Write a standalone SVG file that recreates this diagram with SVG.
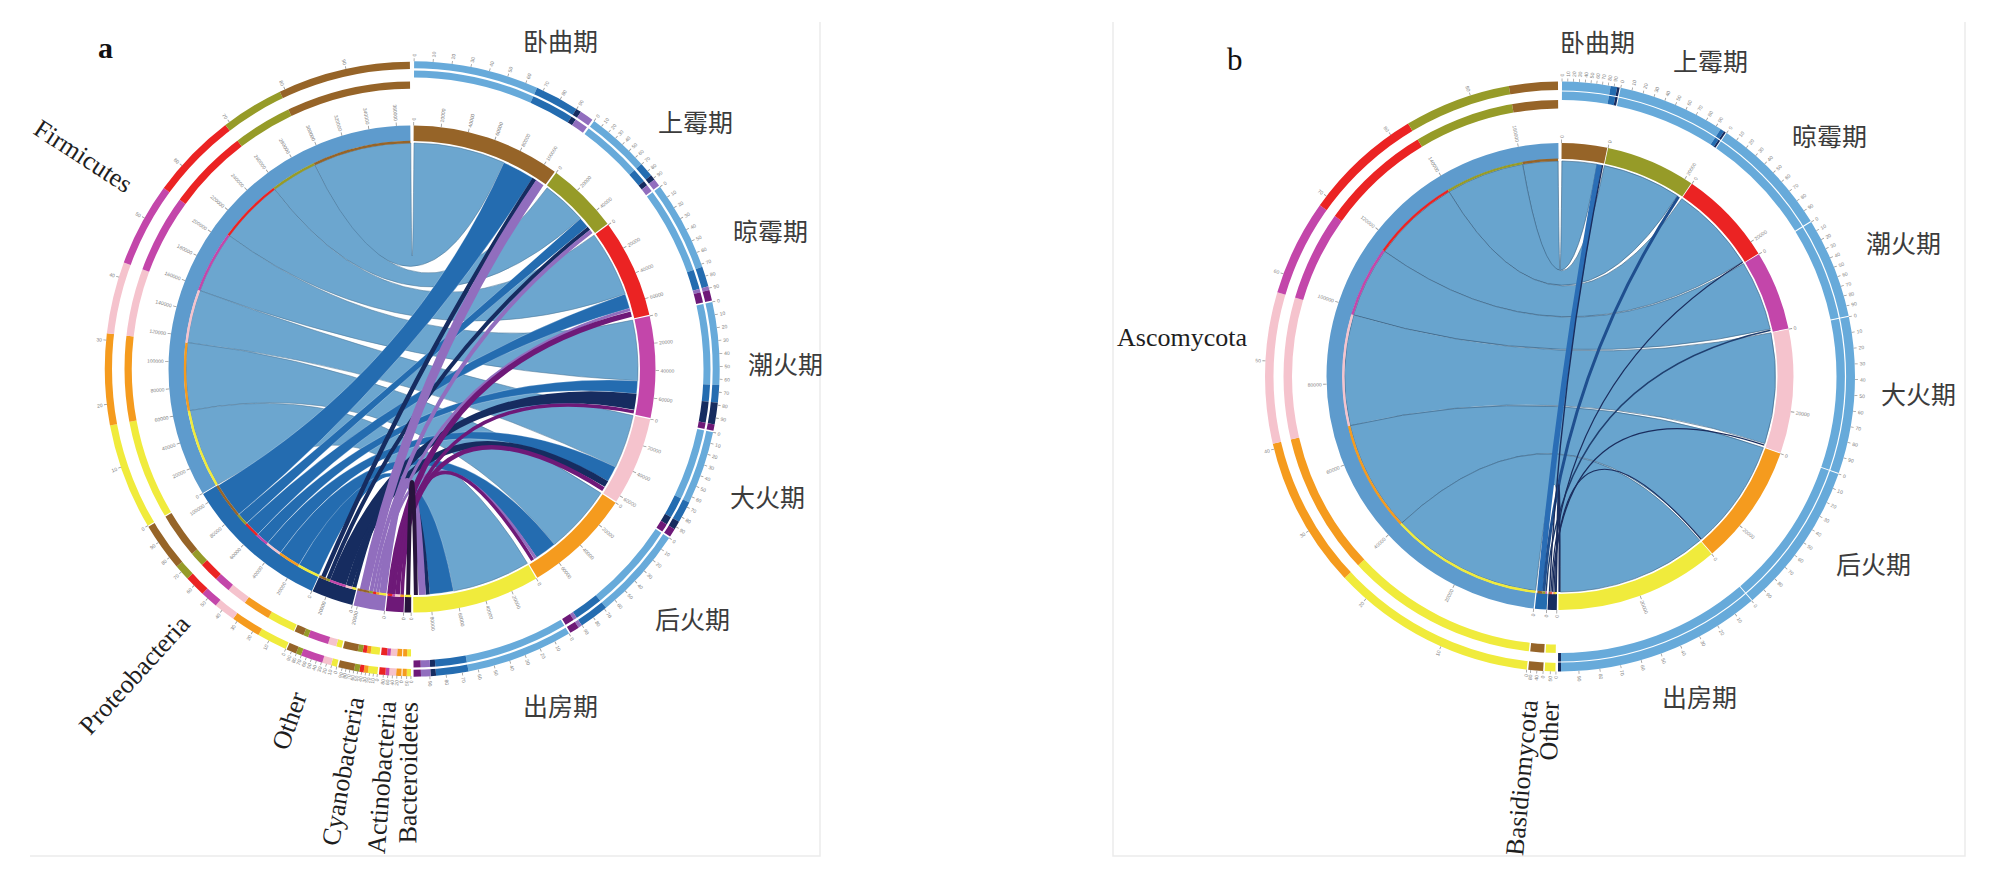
<svg xmlns="http://www.w3.org/2000/svg" width="2005" height="879" viewBox="0 0 2005 879">
<style>
.cn{font-family:"Noto Sans CJK SC","Noto Sans CJK JP",sans-serif;font-size:25px;fill:#3c3c3c}
.en{font-family:"Liberation Serif","Times New Roman",serif;font-size:26px;fill:#1e1e1e}
.tk,.tkl{font-family:"Liberation Sans",Arial,sans-serif;font-size:5px;fill:#808080;dominant-baseline:central}
.tkl{text-anchor:end}
.br{stroke:#966428}.ol{stroke:#969b28}.rd{stroke:#eb2323}.mg{stroke:#c346aa}.pk{stroke:#f5c3cd}.or{stroke:#f59b1e}.ye{stroke:#f0eb3c}
.lb{stroke:#67aada}.fb{stroke:#5e9bcd}.mb{stroke:#246cb0}.nv{stroke:#162c60}.lv{stroke:#916ebe}.pu{stroke:#6e1978}.dk{stroke:#28143c}
.tc{stroke:#9a9a9a}.wt{stroke:#ffffff}
</style>
<rect width="2005" height="879" fill="#ffffff"/>
<g id="frame" fill="none" stroke="#ebebeb" stroke-width="1.5">
<path d="M30,856H820V22"/>
<path d="M1113,22V856H1965V22"/>
</g>
<text x="98" y="58" font-family="Liberation Serif,serif" font-size="30" font-weight="bold" fill="#111">a</text>
<text x="1227" y="70" font-family="Liberation Serif,serif" font-size="31" fill="#111">b</text>

<g id="panel-a" transform="translate(412,369)">
<g id="a-connectors">
<g fill="#6ca6cf" stroke="#4a7496" stroke-width="0.7" stroke-opacity="0.75">
<path d="M-97.3,-204A226,226 0 0 1 -1.2,-226Q0,0 2,-226A226,226 0 0 1 91.9,-206.5Q0,0 -97.3,-204Z"/>
<path d="M-137.3,-179.5A226,226 0 0 1 -97.3,-204Q0,0 135.1,-181.2A226,226 0 0 1 168.5,-150.6Q0,0 -137.3,-179.5Z"/>
<path d="M-182.6,-133.2A226,226 0 0 1 -137.3,-179.5Q0,0 182.1,-133.8A226,226 0 0 1 213.2,-75.1Q0,0 -182.6,-133.2Z"/>
<path d="M-212,-78.4A226,226 0 0 1 -182.6,-133.2Q0,0 220.6,-48.9A226,226 0 0 1 225.7,11.8Q0,0 -212,-78.4Z"/>
<path d="M-224.5,-26.4A226,226 0 0 1 -212,-78.4Q0,0 221.1,46.6A226,226 0 0 1 203.6,98Q0,0 -224.5,-26.4Z"/>
<path d="M-222.1,41.6A226,226 0 0 1 -224.5,-26.4Q0,0 188.9,124.1A226,226 0 0 1 142.5,175.4Q0,0 -222.1,41.6Z"/>
<path d="M-194.3,115.4A226,226 0 0 1 -222.1,41.6Q0,0 115.4,194.3A226,226 0 0 1 41.6,222.1Q0,0 -194.3,115.4Z"/>
</g>
<g fill="#246cb0" stroke="#ffffff" stroke-width="0.5" stroke-opacity="0.5">
<path d="M-93,206A226,226 0 0 1 -113,195.7Q0,0 41.6,222.1A226,226 0 0 1 17.7,225.3Q0,0 -93,206Z"/>
<path d="M-113,195.7A226,226 0 0 1 -131.6,183.8Q0,0 142.5,175.4A226,226 0 0 1 124.7,188.5Q0,0 -113,195.7Z"/>
<path d="M-131.6,183.8A226,226 0 0 1 -144.4,173.9Q0,0 203.6,98A226,226 0 0 1 196.1,112.3Q0,0 -131.6,183.8Z"/>
<path d="M-144.4,173.9A226,226 0 0 1 -154.1,165.3Q0,0 225.7,11.8A226,226 0 0 1 224.6,24.8Q0,0 -144.4,173.9Z"/>
<path d="M-154.1,165.3A226,226 0 0 1 -165.3,154.1Q0,0 213.2,-75.1A226,226 0 0 1 217.7,-60.8Q0,0 -154.1,165.3Z"/>
<path d="M-165.3,154.1A226,226 0 0 1 -173.1,145.3Q0,0 168.5,-150.6A226,226 0 0 1 175.6,-142.2Q0,0 -165.3,154.1Z"/>
<path d="M-173.1,145.3A226,226 0 0 1 -193.7,116.4Q0,0 91.9,-206.5A226,226 0 0 1 120.8,-191Q0,0 -173.1,145.3Z"/>
</g>
<path fill="#162c60" d="M-66.1,216.1A226,226 0 0 1 -81.7,210.7Q0,0 224.6,24.8A226,226 0 0 1 222.3,40.8Q0,0 -66.1,216.1Z"/>
<g fill="none">
<path stroke="#162c60" stroke-width="6.5" d="M-62.9,217.1Q0,0 194.5,115"/>
<path stroke="#162c60" stroke-width="4" d="M-57.7,218.5Q0,0 15.8,225.5"/>
<path stroke="#162c60" stroke-width="4" d="M-83.6,210Q0,0 176.9,-140.7"/>
<path stroke="#162c60" stroke-width="4.5" d="M-88.7,207.9Q0,0 122.4,-190"/>
<path stroke="#916ebe" stroke-width="9" d="M-47.8,220.9Q0,0 127.8,-186.4"/>
<path stroke="#916ebe" stroke-width="4" d="M-40.8,222.3Q0,0 179.3,-137.6"/>
<path stroke="#916ebe" stroke-width="3" d="M-37.3,222.9Q0,0 218,-59.4"/>
<path stroke="#916ebe" stroke-width="3" d="M-34.2,223.4Q0,0 123.6,189.2"/>
<path stroke="#916ebe" stroke-width="7" d="M-29.1,224.1Q0,0 10.3,225.8"/>
<path stroke="#6e1978" stroke-width="5.5" d="M-22.1,224.9Q0,0 219.2,-54.9"/>
<path stroke="#6e1978" stroke-width="3.5" d="M-18.3,225.3Q0,0 221.9,42.9"/>
<path stroke="#6e1978" stroke-width="4.5" d="M-14.4,225.5Q0,0 191.4,120.1"/>
<path stroke="#6e1978" stroke-width="3.5" d="M-9.9,225.8Q0,0 120.6,191.1"/>
<path stroke="#28143c" stroke-width="4" d="M-3.9,226Q0,0 3.9,226"/>
</g>
</g>

<g id="a-wuqu">
<g transform="rotate(-90)" fill="none">
<circle r="235.75" stroke-width="15.5" pathLength="360" stroke-dasharray="35.5 360" stroke-dashoffset="-0.4" class="br"/>
<circle r="299.6" stroke-width="16.2" pathLength="360" stroke-dasharray="23.6 360" stroke-dashoffset="-0.4" class="lb"/>
<circle r="299.6" stroke-width="16.2" pathLength="360" stroke-dasharray="8.3 360" stroke-dashoffset="-24" class="mb"/>
<circle r="299.6" stroke-width="16.2" pathLength="360" stroke-dasharray="1 360" stroke-dashoffset="-32.3" class="nv"/>
<circle r="299.6" stroke-width="16.2" pathLength="360" stroke-dasharray="2.6 360" stroke-dashoffset="-33.3" class="lv"/>
<circle r="309.2" stroke-width="3" pathLength="360" class="tc" stroke-dasharray="0.15 3.4 0.15 3.4 0.15 3.4 0.15 3.4 0.15 3.4 0.15 3.4 0.15 3.4 0.15 3.4 0.15 3.4 0.15 400" stroke-dashoffset="-0.325"/>
</g>
<text class="tk" transform="rotate(-89.6)" x="248.5">0</text><text class="tk" transform="rotate(-83.1)" x="248.5">20000</text><text class="tk" transform="rotate(-76.6)" x="248.5">40000</text><text class="tk" transform="rotate(-70.1)" x="248.5">60000</text><text class="tk" transform="rotate(-63.6)" x="248.5">80000</text><text class="tk" transform="rotate(-57.1)" x="248.5">100000</text>
<text class="tk" transform="rotate(-89.6)" x="312.5">0</text><text class="tk" transform="rotate(-86.05)" x="312.5">10</text><text class="tk" transform="rotate(-82.5)" x="312.5">20</text><text class="tk" transform="rotate(-78.95)" x="312.5">30</text><text class="tk" transform="rotate(-75.4)" x="312.5">40</text><text class="tk" transform="rotate(-71.85)" x="312.5">50</text><text class="tk" transform="rotate(-68.3)" x="312.5">60</text><text class="tk" transform="rotate(-64.75)" x="312.5">70</text><text class="tk" transform="rotate(-61.2)" x="312.5">80</text><text class="tk" transform="rotate(-57.65)" x="312.5">90</text>
<text class="cn" x="111" y="-318">卧曲期</text>
</g>

<g id="a-shangmei">
<g transform="rotate(-90)" fill="none">
<circle r="235.75" stroke-width="15.5" pathLength="360" stroke-dasharray="17.1 360" stroke-dashoffset="-36.3" class="ol"/>
<circle r="299.6" stroke-width="16.2" pathLength="360" stroke-dasharray="11.9 360" stroke-dashoffset="-36.3" class="lb"/>
<circle r="299.6" stroke-width="16.2" pathLength="360" stroke-dasharray="2.8 360" stroke-dashoffset="-48.2" class="mb"/>
<circle r="299.6" stroke-width="16.2" pathLength="360" stroke-dasharray="1 360" stroke-dashoffset="-51" class="nv"/>
<circle r="299.6" stroke-width="16.2" pathLength="360" stroke-dasharray="1.4 360" stroke-dashoffset="-52" class="lv"/>
<circle r="309.2" stroke-width="3" pathLength="360" class="tc" stroke-dasharray="0.15 1.56 0.15 1.56 0.15 1.56 0.15 1.56 0.15 1.56 0.15 1.56 0.15 1.56 0.15 1.56 0.15 1.56 0.15 400" stroke-dashoffset="-36.225"/>
</g>
<text class="tk" transform="rotate(-53.7)" x="248.5">0</text><text class="tk" transform="rotate(-47.2)" x="248.5">20000</text><text class="tk" transform="rotate(-40.7)" x="248.5">40000</text>
<text class="tk" transform="rotate(-53.7)" x="312.5">0</text><text class="tk" transform="rotate(-51.99)" x="312.5">10</text><text class="tk" transform="rotate(-50.28)" x="312.5">20</text><text class="tk" transform="rotate(-48.57)" x="312.5">30</text><text class="tk" transform="rotate(-46.86)" x="312.5">40</text><text class="tk" transform="rotate(-45.15)" x="312.5">50</text><text class="tk" transform="rotate(-43.44)" x="312.5">60</text><text class="tk" transform="rotate(-41.73)" x="312.5">70</text><text class="tk" transform="rotate(-40.02)" x="312.5">80</text><text class="tk" transform="rotate(-38.31)" x="312.5">90</text>
<text class="cn" x="246" y="-237">上霉期</text>
</g>

<g id="a-liangmei">
<g transform="rotate(-90)" fill="none">
<circle r="235.75" stroke-width="15.5" pathLength="360" stroke-dasharray="23.4 360" stroke-dashoffset="-53.7" class="rd"/>
<circle r="299.6" stroke-width="16.2" pathLength="360" stroke-dasharray="16.9 360" stroke-dashoffset="-53.7" class="lb"/>
<circle r="299.6" stroke-width="16.2" pathLength="360" stroke-dasharray="3.8 360" stroke-dashoffset="-70.6" class="mb"/>
<circle r="299.6" stroke-width="16.2" pathLength="360" stroke-dasharray="0.7 360" stroke-dashoffset="-74.4" class="lv"/>
<circle r="299.6" stroke-width="16.2" pathLength="360" stroke-dasharray="2 360" stroke-dashoffset="-75.1" class="pu"/>
<circle r="309.2" stroke-width="3" pathLength="360" class="tc" stroke-dasharray="0.15 2.19 0.15 2.19 0.15 2.19 0.15 2.19 0.15 2.19 0.15 2.19 0.15 2.19 0.15 2.19 0.15 2.19 0.15 400" stroke-dashoffset="-53.625"/>
</g>
<text class="tk" transform="rotate(-36.3)" x="248.5">0</text><text class="tk" transform="rotate(-29.8)" x="248.5">20000</text><text class="tk" transform="rotate(-23.3)" x="248.5">40000</text><text class="tk" transform="rotate(-16.8)" x="248.5">60000</text>
<text class="tk" transform="rotate(-36.3)" x="312.5">0</text><text class="tk" transform="rotate(-33.96)" x="312.5">10</text><text class="tk" transform="rotate(-31.62)" x="312.5">20</text><text class="tk" transform="rotate(-29.28)" x="312.5">30</text><text class="tk" transform="rotate(-26.94)" x="312.5">40</text><text class="tk" transform="rotate(-24.6)" x="312.5">50</text><text class="tk" transform="rotate(-22.26)" x="312.5">60</text><text class="tk" transform="rotate(-19.92)" x="312.5">70</text><text class="tk" transform="rotate(-17.58)" x="312.5">80</text><text class="tk" transform="rotate(-15.24)" x="312.5">90</text>
<text class="cn" x="321" y="-128">晾霉期</text>
</g>

<g id="a-chaohuo">
<g transform="rotate(-90)" fill="none">
<circle r="235.75" stroke-width="15.5" pathLength="360" stroke-dasharray="24.2 360" stroke-dashoffset="-77.4" class="mg"/>
<circle r="299.6" stroke-width="16.2" pathLength="360" stroke-dasharray="15.6 360" stroke-dashoffset="-77.4" class="lb"/>
<circle r="299.6" stroke-width="16.2" pathLength="360" stroke-dasharray="3.3 360" stroke-dashoffset="-93" class="mb"/>
<circle r="299.6" stroke-width="16.2" pathLength="360" stroke-dasharray="4.1 360" stroke-dashoffset="-96.3" class="nv"/>
<circle r="299.6" stroke-width="16.2" pathLength="360" stroke-dasharray="1.2 360" stroke-dashoffset="-100.4" class="pu"/>
<circle r="309.2" stroke-width="3" pathLength="360" class="tc" stroke-dasharray="0.15 2.27 0.15 2.27 0.15 2.27 0.15 2.27 0.15 2.27 0.15 2.27 0.15 2.27 0.15 2.27 0.15 2.27 0.15 400" stroke-dashoffset="-77.325"/>
</g>
<text class="tk" transform="rotate(-12.6)" x="248.5">0</text><text class="tk" transform="rotate(-6.1)" x="248.5">20000</text><text class="tk" transform="rotate(0.4)" x="248.5">40000</text><text class="tk" transform="rotate(6.9)" x="248.5">60000</text>
<text class="tk" transform="rotate(-12.6)" x="312.5">0</text><text class="tk" transform="rotate(-10.18)" x="312.5">10</text><text class="tk" transform="rotate(-7.76)" x="312.5">20</text><text class="tk" transform="rotate(-5.34)" x="312.5">30</text><text class="tk" transform="rotate(-2.92)" x="312.5">40</text><text class="tk" transform="rotate(-0.5)" x="312.5">50</text><text class="tk" transform="rotate(1.92)" x="312.5">60</text><text class="tk" transform="rotate(4.34)" x="312.5">70</text><text class="tk" transform="rotate(6.76)" x="312.5">80</text><text class="tk" transform="rotate(9.18)" x="312.5">90</text>
<text class="cn" x="336" y="5">潮火期</text>
</g>

<g id="a-dahuo">
<g transform="rotate(-90)" fill="none">
<circle r="235.75" stroke-width="15.5" pathLength="360" stroke-dasharray="21.1 360" stroke-dashoffset="-101.9" class="pk"/>
<circle r="299.6" stroke-width="16.2" pathLength="360" stroke-dasharray="13.8 360" stroke-dashoffset="-101.9" class="lb"/>
<circle r="299.6" stroke-width="16.2" pathLength="360" stroke-dasharray="4.1 360" stroke-dashoffset="-115.7" class="mb"/>
<circle r="299.6" stroke-width="16.2" pathLength="360" stroke-dasharray="1.6 360" stroke-dashoffset="-119.8" class="nv"/>
<circle r="299.6" stroke-width="16.2" pathLength="360" stroke-dasharray="1.6 360" stroke-dashoffset="-121.4" class="pu"/>
<circle r="309.2" stroke-width="3" pathLength="360" class="tc" stroke-dasharray="0.15 1.96 0.15 1.96 0.15 1.96 0.15 1.96 0.15 1.96 0.15 1.96 0.15 1.96 0.15 1.96 0.15 1.96 0.15 400" stroke-dashoffset="-101.825"/>
</g>
<text class="tk" transform="rotate(11.9)" x="248.5">0</text><text class="tk" transform="rotate(18.4)" x="248.5">20000</text><text class="tk" transform="rotate(24.9)" x="248.5">40000</text><text class="tk" transform="rotate(31.4)" x="248.5">60000</text>
<text class="tk" transform="rotate(11.9)" x="312.5">0</text><text class="tk" transform="rotate(14.01)" x="312.5">10</text><text class="tk" transform="rotate(16.12)" x="312.5">20</text><text class="tk" transform="rotate(18.23)" x="312.5">30</text><text class="tk" transform="rotate(20.34)" x="312.5">40</text><text class="tk" transform="rotate(22.45)" x="312.5">50</text><text class="tk" transform="rotate(24.56)" x="312.5">60</text><text class="tk" transform="rotate(26.67)" x="312.5">70</text><text class="tk" transform="rotate(28.78)" x="312.5">80</text><text class="tk" transform="rotate(30.89)" x="312.5">90</text>
<text class="cn" x="318" y="138">大火期</text>
</g>

<g id="a-houhuo">
<g transform="rotate(-90)" fill="none">
<circle r="235.75" stroke-width="15.5" pathLength="360" stroke-dasharray="25.7 360" stroke-dashoffset="-123.3" class="or"/>
<circle r="299.6" stroke-width="16.2" pathLength="360" stroke-dasharray="17.6 360" stroke-dashoffset="-123.3" class="lb"/>
<circle r="299.6" stroke-width="16.2" pathLength="360" stroke-dasharray="5.6 360" stroke-dashoffset="-140.9" class="mb"/>
<circle r="299.6" stroke-width="16.2" pathLength="360" stroke-dasharray="0.7 360" stroke-dashoffset="-146.5" class="lv"/>
<circle r="299.6" stroke-width="16.2" pathLength="360" stroke-dasharray="1.8 360" stroke-dashoffset="-147.2" class="pu"/>
<circle r="309.2" stroke-width="3" pathLength="360" class="tc" stroke-dasharray="0.15 2.42 0.15 2.42 0.15 2.42 0.15 2.42 0.15 2.42 0.15 2.42 0.15 2.42 0.15 2.42 0.15 2.42 0.15 400" stroke-dashoffset="-123.225"/>
</g>
<text class="tk" transform="rotate(33.3)" x="248.5">0</text><text class="tk" transform="rotate(39.8)" x="248.5">20000</text><text class="tk" transform="rotate(46.3)" x="248.5">40000</text><text class="tk" transform="rotate(52.8)" x="248.5">60000</text>
<text class="tk" transform="rotate(33.3)" x="312.5">0</text><text class="tk" transform="rotate(35.87)" x="312.5">10</text><text class="tk" transform="rotate(38.44)" x="312.5">20</text><text class="tk" transform="rotate(41.01)" x="312.5">30</text><text class="tk" transform="rotate(43.58)" x="312.5">40</text><text class="tk" transform="rotate(46.15)" x="312.5">50</text><text class="tk" transform="rotate(48.72)" x="312.5">60</text><text class="tk" transform="rotate(51.29)" x="312.5">70</text><text class="tk" transform="rotate(53.86)" x="312.5">80</text><text class="tk" transform="rotate(56.43)" x="312.5">90</text>
<text class="cn" x="243" y="260">后火期</text>
</g>

<g id="a-chufang">
<g transform="rotate(-90)" fill="none">
<circle r="235.75" stroke-width="15.5" pathLength="360" stroke-dasharray="30.4 360" stroke-dashoffset="-149.3" class="ye"/>
<circle r="299.6" stroke-width="16.2" pathLength="360" stroke-dasharray="20.1 360" stroke-dashoffset="-149.3" class="lb"/>
<circle r="299.6" stroke-width="16.2" pathLength="360" stroke-dasharray="6.1 360" stroke-dashoffset="-169.4" class="mb"/>
<circle r="299.6" stroke-width="16.2" pathLength="360" stroke-dasharray="1 360" stroke-dashoffset="-175.5" class="nv"/>
<circle r="299.6" stroke-width="16.2" pathLength="360" stroke-dasharray="1.8 360" stroke-dashoffset="-176.5" class="lv"/>
<circle r="299.6" stroke-width="16.2" pathLength="360" stroke-dasharray="1.4 360" stroke-dashoffset="-178.3" class="pu"/>
<circle r="309.2" stroke-width="3" pathLength="360" class="tc" stroke-dasharray="0.15 2.89 0.15 2.89 0.15 2.89 0.15 2.89 0.15 2.89 0.15 2.89 0.15 2.89 0.15 2.89 0.15 2.89 0.15 400" stroke-dashoffset="-149.225"/>
</g>
<text class="tk" transform="rotate(59.3)" x="248.5">0</text><text class="tk" transform="rotate(65.8)" x="248.5">20000</text><text class="tk" transform="rotate(72.3)" x="248.5">40000</text><text class="tk" transform="rotate(78.8)" x="248.5">60000</text><text class="tk" transform="rotate(85.3)" x="248.5">80000</text>
<text class="tk" transform="rotate(59.3)" x="312.5">0</text><text class="tk" transform="rotate(62.34)" x="312.5">10</text><text class="tk" transform="rotate(65.38)" x="312.5">20</text><text class="tk" transform="rotate(68.42)" x="312.5">30</text><text class="tk" transform="rotate(71.46)" x="312.5">40</text><text class="tk" transform="rotate(74.5)" x="312.5">50</text><text class="tk" transform="rotate(77.54)" x="312.5">60</text><text class="tk" transform="rotate(80.58)" x="312.5">70</text><text class="tk" transform="rotate(83.62)" x="312.5">80</text><text class="tk" transform="rotate(86.66)" x="312.5">90</text>
<text class="cn" x="111" y="347">出房期</text>
</g>

<g id="a-firmicutes">
<g transform="rotate(-90)" fill="none">
<circle r="235.75" stroke-width="15.5" pathLength="360" stroke-dasharray="120.3 360" stroke-dashoffset="-239.3" class="fb"/>
<circle r="227" stroke-width="2.4" pathLength="360" stroke-dasharray="20.1 360" stroke-dashoffset="-239.3" class="ye"/>
<circle r="227" stroke-width="2.4" pathLength="360" stroke-dasharray="17.3 360" stroke-dashoffset="-259.4" class="or"/>
<circle r="227" stroke-width="2.4" pathLength="360" stroke-dasharray="13.6 360" stroke-dashoffset="-276.7" class="pk"/>
<circle r="227" stroke-width="2.4" pathLength="360" stroke-dasharray="15.8 360" stroke-dashoffset="-290.3" class="mg"/>
<circle r="227" stroke-width="2.4" pathLength="360" stroke-dasharray="16.5 360" stroke-dashoffset="-306.1" class="rd"/>
<circle r="227" stroke-width="2.4" pathLength="360" stroke-dasharray="11.9 360" stroke-dashoffset="-322.6" class="ol"/>
<circle r="227" stroke-width="2.4" pathLength="360" stroke-dasharray="25.1 360" stroke-dashoffset="-334.5" class="br"/>
<circle r="293.75" stroke-width="27" pathLength="360" stroke-dasharray="20.1 360" stroke-dashoffset="-239.3" class="ye"/>
<circle r="293.75" stroke-width="27" pathLength="360" stroke-dasharray="17.3 360" stroke-dashoffset="-259.4" class="or"/>
<circle r="293.75" stroke-width="27" pathLength="360" stroke-dasharray="13.6 360" stroke-dashoffset="-276.7" class="pk"/>
<circle r="293.75" stroke-width="27" pathLength="360" stroke-dasharray="15.8 360" stroke-dashoffset="-290.3" class="mg"/>
<circle r="293.75" stroke-width="27" pathLength="360" stroke-dasharray="16.5 360" stroke-dashoffset="-306.1" class="rd"/>
<circle r="293.75" stroke-width="27" pathLength="360" stroke-dasharray="11.9 360" stroke-dashoffset="-322.6" class="ol"/>
<circle r="293.75" stroke-width="27" pathLength="360" stroke-dasharray="25.1 360" stroke-dashoffset="-334.5" class="br"/>
<circle r="308.5" stroke-width="3" pathLength="360" class="tc" stroke-dasharray="0.15 11.88 0.15 11.88 0.15 11.88 0.15 11.88 0.15 11.88 0.15 11.88 0.15 11.88 0.15 11.88 0.15 11.88 0.15 400" stroke-dashoffset="-239.225"/>
</g>
<text class="tkl" transform="rotate(329.3)" x="-248.5">0</text><text class="tkl" transform="rotate(335.8)" x="-248.5">20000</text><text class="tkl" transform="rotate(342.3)" x="-248.5">40000</text><text class="tkl" transform="rotate(348.8)" x="-248.5">60000</text><text class="tkl" transform="rotate(355.3)" x="-248.5">80000</text><text class="tkl" transform="rotate(1.8)" x="-248.5">100000</text><text class="tkl" transform="rotate(8.3)" x="-248.5">120000</text><text class="tkl" transform="rotate(14.8)" x="-248.5">140000</text><text class="tkl" transform="rotate(21.3)" x="-248.5">160000</text><text class="tkl" transform="rotate(27.8)" x="-248.5">180000</text><text class="tkl" transform="rotate(34.3)" x="-248.5">200000</text><text class="tkl" transform="rotate(40.8)" x="-248.5">220000</text><text class="tkl" transform="rotate(47.3)" x="-248.5">240000</text><text class="tkl" transform="rotate(53.8)" x="-248.5">260000</text><text class="tkl" transform="rotate(60.3)" x="-248.5">280000</text><text class="tkl" transform="rotate(66.8)" x="-248.5">300000</text><text class="tkl" transform="rotate(73.3)" x="-248.5">320000</text><text class="tkl" transform="rotate(79.8)" x="-248.5">340000</text><text class="tkl" transform="rotate(86.3)" x="-248.5">360000</text>
<text class="tkl" transform="rotate(329.3)" x="-311.5">0</text><text class="tkl" transform="rotate(341.33)" x="-311.5">10</text><text class="tkl" transform="rotate(353.36)" x="-311.5">20</text><text class="tkl" transform="rotate(5.39)" x="-311.5">30</text><text class="tkl" transform="rotate(17.42)" x="-311.5">40</text><text class="tkl" transform="rotate(29.45)" x="-311.5">50</text><text class="tkl" transform="rotate(41.48)" x="-311.5">60</text><text class="tkl" transform="rotate(53.51)" x="-311.5">70</text><text class="tkl" transform="rotate(65.54)" x="-311.5">80</text><text class="tkl" transform="rotate(77.57)" x="-311.5">90</text>
<text class="en" text-anchor="end" transform="rotate(33)" x="-336" dy="0.35em">Firmicutes</text>
</g>

<g id="a-proteobacteria">
<g transform="rotate(-90)" fill="none">
<circle r="235.75" stroke-width="15.5" pathLength="360" stroke-dasharray="34.8 360" stroke-dashoffset="-204.3" class="mb"/>
<circle r="227" stroke-width="2.4" pathLength="360" stroke-dasharray="5.7 360" stroke-dashoffset="-204.3" class="ye"/>
<circle r="227" stroke-width="2.4" pathLength="360" stroke-dasharray="5.6 360" stroke-dashoffset="-210" class="or"/>
<circle r="227" stroke-width="2.4" pathLength="360" stroke-dasharray="4.1 360" stroke-dashoffset="-215.6" class="pk"/>
<circle r="227" stroke-width="2.4" pathLength="360" stroke-dasharray="3.3 360" stroke-dashoffset="-219.7" class="mg"/>
<circle r="227" stroke-width="2.4" pathLength="360" stroke-dasharray="4 360" stroke-dashoffset="-223" class="rd"/>
<circle r="227" stroke-width="2.4" pathLength="360" stroke-dasharray="3 360" stroke-dashoffset="-227" class="ol"/>
<circle r="227" stroke-width="2.4" pathLength="360" stroke-dasharray="9.1 360" stroke-dashoffset="-230" class="br"/>
<circle r="293.75" stroke-width="27" pathLength="360" stroke-dasharray="5.7 360" stroke-dashoffset="-204.3" class="ye"/>
<circle r="293.75" stroke-width="27" pathLength="360" stroke-dasharray="5.6 360" stroke-dashoffset="-210" class="or"/>
<circle r="293.75" stroke-width="27" pathLength="360" stroke-dasharray="4.1 360" stroke-dashoffset="-215.6" class="pk"/>
<circle r="293.75" stroke-width="27" pathLength="360" stroke-dasharray="3.3 360" stroke-dashoffset="-219.7" class="mg"/>
<circle r="293.75" stroke-width="27" pathLength="360" stroke-dasharray="4 360" stroke-dashoffset="-223" class="rd"/>
<circle r="293.75" stroke-width="27" pathLength="360" stroke-dasharray="3 360" stroke-dashoffset="-227" class="ol"/>
<circle r="293.75" stroke-width="27" pathLength="360" stroke-dasharray="9.1 360" stroke-dashoffset="-230" class="br"/>
<circle r="308.5" stroke-width="3" pathLength="360" class="tc" stroke-dasharray="0.15 3.33 0.15 3.33 0.15 3.33 0.15 3.33 0.15 3.33 0.15 3.33 0.15 3.33 0.15 3.33 0.15 3.33 0.15 400" stroke-dashoffset="-204.225"/>
</g>
<text class="tkl" transform="rotate(294.3)" x="-248.5">0</text><text class="tkl" transform="rotate(300.8)" x="-248.5">20000</text><text class="tkl" transform="rotate(307.3)" x="-248.5">40000</text><text class="tkl" transform="rotate(313.8)" x="-248.5">60000</text><text class="tkl" transform="rotate(320.3)" x="-248.5">80000</text><text class="tkl" transform="rotate(326.8)" x="-248.5">100000</text>
<text class="tkl" transform="rotate(294.3)" x="-311.5">0</text><text class="tkl" transform="rotate(297.78)" x="-311.5">10</text><text class="tkl" transform="rotate(301.26)" x="-311.5">20</text><text class="tkl" transform="rotate(304.74)" x="-311.5">30</text><text class="tkl" transform="rotate(308.22)" x="-311.5">40</text><text class="tkl" transform="rotate(311.7)" x="-311.5">50</text><text class="tkl" transform="rotate(315.18)" x="-311.5">60</text><text class="tkl" transform="rotate(318.66)" x="-311.5">70</text><text class="tkl" transform="rotate(322.14)" x="-311.5">80</text><text class="tkl" transform="rotate(325.62)" x="-311.5">90</text>
<text class="en" text-anchor="end" transform="rotate(312.3)" x="-338" dy="0.35em">Proteobacteria</text>
</g>

<g id="a-other">
<g transform="rotate(-90)" fill="none">
<circle r="235.75" stroke-width="15.5" pathLength="360" stroke-dasharray="9.9 360" stroke-dashoffset="-194.2" class="nv"/>
<circle r="227" stroke-width="2.4" pathLength="360" stroke-dasharray="1.1 360" stroke-dashoffset="-194.2" class="ye"/>
<circle r="227" stroke-width="2.4" pathLength="360" stroke-dasharray="1.7 360" stroke-dashoffset="-195.3" class="pk"/>
<circle r="227" stroke-width="2.4" pathLength="360" stroke-dasharray="4.2 360" stroke-dashoffset="-197" class="mg"/>
<circle r="227" stroke-width="2.4" pathLength="360" stroke-dasharray="1 360" stroke-dashoffset="-201.2" class="ol"/>
<circle r="227" stroke-width="2.4" pathLength="360" stroke-dasharray="1.9 360" stroke-dashoffset="-202.2" class="br"/>
<circle r="293.75" stroke-width="27" pathLength="360" stroke-dasharray="1.1 360" stroke-dashoffset="-194.2" class="ye"/>
<circle r="293.75" stroke-width="27" pathLength="360" stroke-dasharray="1.7 360" stroke-dashoffset="-195.3" class="pk"/>
<circle r="293.75" stroke-width="27" pathLength="360" stroke-dasharray="4.2 360" stroke-dashoffset="-197" class="mg"/>
<circle r="293.75" stroke-width="27" pathLength="360" stroke-dasharray="1 360" stroke-dashoffset="-201.2" class="ol"/>
<circle r="293.75" stroke-width="27" pathLength="360" stroke-dasharray="1.9 360" stroke-dashoffset="-202.2" class="br"/>
<circle r="308.5" stroke-width="3" pathLength="360" class="tc" stroke-dasharray="0.15 0.84 0.15 0.84 0.15 0.84 0.15 0.84 0.15 0.84 0.15 0.84 0.15 0.84 0.15 0.84 0.15 0.84 0.15 400" stroke-dashoffset="-194.125"/>
</g>
<text class="tkl" transform="rotate(284.2)" x="-248.5">0</text><text class="tkl" transform="rotate(290.7)" x="-248.5">20000</text>
<text class="tkl" transform="rotate(284.2)" x="-311.5">0</text><text class="tkl" transform="rotate(285.19)" x="-311.5">10</text><text class="tkl" transform="rotate(286.18)" x="-311.5">20</text><text class="tkl" transform="rotate(287.17)" x="-311.5">30</text><text class="tkl" transform="rotate(288.16)" x="-311.5">40</text><text class="tkl" transform="rotate(289.15)" x="-311.5">50</text><text class="tkl" transform="rotate(290.14)" x="-311.5">60</text><text class="tkl" transform="rotate(291.13)" x="-311.5">70</text><text class="tkl" transform="rotate(292.12)" x="-311.5">80</text><text class="tkl" transform="rotate(293.11)" x="-311.5">90</text>
<text class="en" text-anchor="end" transform="rotate(289.3)" x="-343" dy="0.35em">Other</text>
</g>

<g id="a-cyanobacteria">
<g transform="rotate(-90)" fill="none">
<circle r="235.75" stroke-width="15.5" pathLength="360" stroke-dasharray="7.4 360" stroke-dashoffset="-186.5" class="lv"/>
<circle r="227" stroke-width="2.4" pathLength="360" stroke-dasharray="1.8 360" stroke-dashoffset="-186.5" class="ye"/>
<circle r="227" stroke-width="2.4" pathLength="360" stroke-dasharray="0.8 360" stroke-dashoffset="-188.3" class="or"/>
<circle r="227" stroke-width="2.4" pathLength="360" stroke-dasharray="0.8 360" stroke-dashoffset="-189.1" class="rd"/>
<circle r="227" stroke-width="2.4" pathLength="360" stroke-dasharray="1 360" stroke-dashoffset="-189.9" class="ol"/>
<circle r="227" stroke-width="2.4" pathLength="360" stroke-dasharray="3 360" stroke-dashoffset="-190.9" class="br"/>
<circle r="293.75" stroke-width="27" pathLength="360" stroke-dasharray="1.8 360" stroke-dashoffset="-186.5" class="ye"/>
<circle r="293.75" stroke-width="27" pathLength="360" stroke-dasharray="0.8 360" stroke-dashoffset="-188.3" class="or"/>
<circle r="293.75" stroke-width="27" pathLength="360" stroke-dasharray="0.8 360" stroke-dashoffset="-189.1" class="rd"/>
<circle r="293.75" stroke-width="27" pathLength="360" stroke-dasharray="1 360" stroke-dashoffset="-189.9" class="ol"/>
<circle r="293.75" stroke-width="27" pathLength="360" stroke-dasharray="3 360" stroke-dashoffset="-190.9" class="br"/>
<circle r="308.5" stroke-width="3" pathLength="360" class="tc" stroke-dasharray="0.15 0.59 0.15 0.59 0.15 0.59 0.15 0.59 0.15 0.59 0.15 0.59 0.15 0.59 0.15 0.59 0.15 0.59 0.15 400" stroke-dashoffset="-186.425"/>
</g>
<text class="tkl" transform="rotate(276.5)" x="-248.5">0</text><text class="tkl" transform="rotate(283)" x="-248.5">20000</text>
<text class="tkl" transform="rotate(276.5)" x="-311.5">0</text><text class="tkl" transform="rotate(277.24)" x="-311.5">10</text><text class="tkl" transform="rotate(277.98)" x="-311.5">20</text><text class="tkl" transform="rotate(278.72)" x="-311.5">30</text><text class="tkl" transform="rotate(279.46)" x="-311.5">40</text><text class="tkl" transform="rotate(280.2)" x="-311.5">50</text><text class="tkl" transform="rotate(280.94)" x="-311.5">60</text><text class="tkl" transform="rotate(281.68)" x="-311.5">70</text><text class="tkl" transform="rotate(282.42)" x="-311.5">80</text><text class="tkl" transform="rotate(283.16)" x="-311.5">90</text>
<text class="en" text-anchor="end" transform="rotate(279.8)" x="-333" dy="0.35em">Cyanobacteria</text>
</g>

<g id="a-actinobacteria">
<g transform="rotate(-90)" fill="none">
<circle r="235.75" stroke-width="15.5" pathLength="360" stroke-dasharray="4.2 360" stroke-dashoffset="-182" class="pu"/>
<circle r="227" stroke-width="2.4" pathLength="360" stroke-dasharray="1 360" stroke-dashoffset="-182" class="or"/>
<circle r="227" stroke-width="2.4" pathLength="360" stroke-dasharray="1.3 360" stroke-dashoffset="-183" class="pk"/>
<circle r="227" stroke-width="2.4" pathLength="360" stroke-dasharray="0.7 360" stroke-dashoffset="-184.3" class="mg"/>
<circle r="227" stroke-width="2.4" pathLength="360" stroke-dasharray="1.2 360" stroke-dashoffset="-185" class="rd"/>
<circle r="293.75" stroke-width="27" pathLength="360" stroke-dasharray="1 360" stroke-dashoffset="-182" class="or"/>
<circle r="293.75" stroke-width="27" pathLength="360" stroke-dasharray="1.3 360" stroke-dashoffset="-183" class="pk"/>
<circle r="293.75" stroke-width="27" pathLength="360" stroke-dasharray="0.7 360" stroke-dashoffset="-184.3" class="mg"/>
<circle r="293.75" stroke-width="27" pathLength="360" stroke-dasharray="1.2 360" stroke-dashoffset="-185" class="rd"/>
<circle r="308.5" stroke-width="3" pathLength="360" class="tc" stroke-dasharray="0.15 0.69 0.15 0.69 0.15 0.69 0.15 0.69 0.15 400" stroke-dashoffset="-181.925"/>
</g>
<text class="tkl" transform="rotate(272)" x="-248.5">0</text>
<text class="tkl" transform="rotate(272)" x="-311.5">0</text><text class="tkl" transform="rotate(272.84)" x="-311.5">20</text><text class="tkl" transform="rotate(273.68)" x="-311.5">40</text><text class="tkl" transform="rotate(274.52)" x="-311.5">60</text><text class="tkl" transform="rotate(275.36)" x="-311.5">80</text>
<text class="en" text-anchor="end" transform="rotate(274.3)" x="-333" dy="0.35em">Actinobacteria</text>
</g>

<g id="a-bacteroidetes">
<g transform="rotate(-90)" fill="none">
<circle r="235.75" stroke-width="15.5" pathLength="360" stroke-dasharray="1.6 360" stroke-dashoffset="-180.2" class="dk"/>
<circle r="227" stroke-width="2.4" pathLength="360" stroke-dasharray="1.6 360" stroke-dashoffset="-180.2" class="ye"/>
<circle r="293.75" stroke-width="27" pathLength="360" stroke-dasharray="0.8 360" stroke-dashoffset="-180.2" class="ye"/>
<circle r="293.75" stroke-width="27" pathLength="360" stroke-dasharray="0.8 360" stroke-dashoffset="-181" class="or"/>
<circle r="308.5" stroke-width="3" pathLength="360" class="tc" stroke-dasharray="0.15 0.65 0.15 400" stroke-dashoffset="-180.125"/>
</g>
<text class="tkl" transform="rotate(270.2)" x="-248.5">0</text>
<text class="tkl" transform="rotate(270.2)" x="-311.5">0</text><text class="tkl" transform="rotate(271)" x="-311.5">50</text>
<text class="en" text-anchor="end" transform="rotate(270.6)" x="-333" dy="0.35em">Bacteroidetes</text>
</g>

<g id="a-axis" transform="rotate(-90)" fill="none">
<circle r="293.75" stroke-width="12.5" pathLength="360" stroke-dasharray="179.7 360" stroke-dashoffset="-180.1" class="wt"/>
<circle r="299.6" stroke-width="2.2" pathLength="360" stroke-dasharray="180 360" stroke-dashoffset="0" class="wt"/>
<circle r="245.25" stroke-width="3.5" pathLength="360" class="tc" stroke-dashoffset="-0.3" stroke-dasharray="0.2 6.3 0.2 6.3 0.2 6.3 0.2 6.3 0.2 6.3 0.2 3.2 0.2 6.3 0.2 6.3 0.2 4.2 0.2 6.3 0.2 6.3 0.2 6.3 0.2 4 0.2 6.3 0.2 6.3 0.2 6.3 0.2 4.8 0.2 6.3 0.2 6.3 0.2 6.3 0.2 1.7 0.2 6.3 0.2 6.3 0.2 6.3 0.2 6.3 0.2 6.3 0.2 6.3 0.2 6.3 0.2 6.3 0.2 4.7 0.2 1.6 0.2 4.3 0.2 6.3 0.2 1 0.2 6.3 0.2 3.4 0.2 6.3 0.2 6.3 0.2 6.3 0.2 6.3 0.2 6.3 0.2 2.3 0.2 6.3 0.2 6.3 0.2 6.3 0.2 6.3 0.2 6.3 0.2 6.3 0.2 6.3 0.2 6.3 0.2 6.3 0.2 6.3 0.2 6.3 0.2 6.3 0.2 6.3 0.2 6.3 0.2 6.3 0.2 6.3 0.2 6.3 0.2 6.3 0.2 400"/>
</g>
</g>

<g id="panel-b" transform="translate(1560,376.5)">
<g id="b-connectors">
<g fill="#68a4ce" stroke="#3e6486" stroke-width="0.8" stroke-opacity="0.8">
<path d="M-37.4,-212.2A215.5,215.5 0 0 1 -1.9,-215.5Q0,0 1.9,-215.5A215.5,215.5 0 0 1 37,-212.3Q0,0 -37.4,-212.2Z"/>
<path d="M-111,-184.7A215.5,215.5 0 0 1 -37.4,-212.2Q0,0 44.4,-210.9A215.5,215.5 0 0 1 117.4,-180.7Q0,0 -111,-184.7Z"/>
<path d="M-175.4,-125.1A215.5,215.5 0 0 1 -111,-184.7Q0,0 121.8,-177.8A215.5,215.5 0 0 1 182.5,-114.5Q0,0 -175.4,-125.1Z"/>
<path d="M-206.5,-61.6A215.5,215.5 0 0 1 -175.4,-125.1Q0,0 183.5,-112.9A215.5,215.5 0 0 1 210.2,-47.4Q0,0 -206.5,-61.6Z"/>
<path d="M-209.8,49.2A215.5,215.5 0 0 1 -206.5,-61.6Q0,0 211,-43.7A215.5,215.5 0 0 1 204.8,67Q0,0 -209.8,49.2Z"/>
<path d="M-158.1,146.4A215.5,215.5 0 0 1 -209.8,49.2Q0,0 203.4,71.2A215.5,215.5 0 0 1 141.7,162.4Q0,0 -158.1,146.4Z"/>
<path d="M-24.4,214.1A215.5,215.5 0 0 1 -158.1,146.4Q0,0 139.9,163.9A215.5,215.5 0 0 1 0.4,215.5Q0,0 -24.4,214.1Z"/>
</g>
<g fill="none">
<path stroke="#2a6db5" stroke-width="5.5" d="M-20.1,214.6Q0,0 39.5,-211.9"/>
<path stroke="#1f4f8f" stroke-width="3" d="M-16.2,214.9Q0,0 118.6,-179.9"/>
<path stroke="#1f3f6f" stroke-width="1.4" d="M-13.9,215Q0,0 210.5,-46.3"/>
<path stroke="#1a2d5e" stroke-width="2" d="M-4.1,215.5Q0,0 -0.6,215.5"/>
<path stroke="#1a2d5e" stroke-width="1.2" d="M-6,215.4Q0,0 141.2,162.8"/>
<path stroke="#1a2d5e" stroke-width="1.4" d="M-7.5,215.4Q0,0 204.3,68.7"/>
<path stroke="#1a2d5e" stroke-width="1.2" d="M-9,215.3Q0,0 182.7,-114.2"/>
<path stroke="#1a2d5e" stroke-width="1.4" d="M-10.5,215.2Q0,0 42.6,-211.3"/>
</g>
</g>

<g id="b-wuqu">
<g transform="rotate(-90)" fill="none">
<circle r="225.5" stroke-width="16" pathLength="360" stroke-dasharray="11.3 360" stroke-dashoffset="-0.4" class="br"/>
<circle r="285.75" stroke-width="18.5" pathLength="360" stroke-dasharray="9.5 360" stroke-dashoffset="-0.4" class="lb"/>
<circle r="285.75" stroke-width="18.5" pathLength="360" stroke-dasharray="1.3 360" stroke-dashoffset="-9.9" class="mb"/>
<circle r="285.75" stroke-width="18.5" pathLength="360" stroke-dasharray="0.5 360" stroke-dashoffset="-11.2" class="nv"/>
<circle r="296.5" stroke-width="3" pathLength="360" class="tc" stroke-dasharray="0.15 0.98 0.15 0.98 0.15 0.98 0.15 0.98 0.15 0.98 0.15 0.98 0.15 0.98 0.15 0.98 0.15 0.98 0.15 400" stroke-dashoffset="-0.325"/>
</g>
<text class="tk" transform="rotate(-89.6)" x="238.5">0</text>
<text class="tk" transform="rotate(-89.6)" x="300">0</text><text class="tk" transform="rotate(-88.47)" x="300">10</text><text class="tk" transform="rotate(-87.34)" x="300">20</text><text class="tk" transform="rotate(-86.21)" x="300">30</text><text class="tk" transform="rotate(-85.08)" x="300">40</text><text class="tk" transform="rotate(-83.95)" x="300">50</text><text class="tk" transform="rotate(-82.82)" x="300">60</text><text class="tk" transform="rotate(-81.69)" x="300">70</text><text class="tk" transform="rotate(-80.56)" x="300">80</text><text class="tk" transform="rotate(-79.43)" x="300">90</text>
<text class="cn" x="0" y="-324.5">卧曲期</text>
</g>

<g id="b-shangmei">
<g transform="rotate(-90)" fill="none">
<circle r="225.5" stroke-width="16" pathLength="360" stroke-dasharray="22.3 360" stroke-dashoffset="-11.9" class="ol"/>
<circle r="285.75" stroke-width="18.5" pathLength="360" stroke-dasharray="21.1 360" stroke-dashoffset="-11.9" class="lb"/>
<circle r="285.75" stroke-width="18.5" pathLength="360" stroke-dasharray="0.8 360" stroke-dashoffset="-33" class="mb"/>
<circle r="285.75" stroke-width="18.5" pathLength="360" stroke-dasharray="0.4 360" stroke-dashoffset="-33.8" class="nv"/>
<circle r="296.5" stroke-width="3" pathLength="360" class="tc" stroke-dasharray="0.15 2.08 0.15 2.08 0.15 2.08 0.15 2.08 0.15 2.08 0.15 2.08 0.15 2.08 0.15 2.08 0.15 2.08 0.15 400" stroke-dashoffset="-11.825"/>
</g>
<text class="tk" transform="rotate(-78.1)" x="238.5">0</text><text class="tk" transform="rotate(-57.7)" x="238.5">20000</text>
<text class="tk" transform="rotate(-78.1)" x="300">0</text><text class="tk" transform="rotate(-75.87)" x="300">10</text><text class="tk" transform="rotate(-73.64)" x="300">20</text><text class="tk" transform="rotate(-71.41)" x="300">30</text><text class="tk" transform="rotate(-69.18)" x="300">40</text><text class="tk" transform="rotate(-66.95)" x="300">50</text><text class="tk" transform="rotate(-64.72)" x="300">60</text><text class="tk" transform="rotate(-62.49)" x="300">70</text><text class="tk" transform="rotate(-60.26)" x="300">80</text><text class="tk" transform="rotate(-58.03)" x="300">90</text>
<text class="cn" x="113" y="-305.5">上霉期</text>
</g>

<g id="b-liangmei">
<g transform="rotate(-90)" fill="none">
<circle r="225.5" stroke-width="16" pathLength="360" stroke-dasharray="23.8 360" stroke-dashoffset="-34.4" class="rd"/>
<circle r="285.75" stroke-width="18.5" pathLength="360" stroke-dasharray="23.8 360" stroke-dashoffset="-34.4" class="lb"/>
<circle r="296.5" stroke-width="3" pathLength="360" class="tc" stroke-dasharray="0.15 2.23 0.15 2.23 0.15 2.23 0.15 2.23 0.15 2.23 0.15 2.23 0.15 2.23 0.15 2.23 0.15 2.23 0.15 400" stroke-dashoffset="-34.325"/>
</g>
<text class="tk" transform="rotate(-55.6)" x="238.5">0</text><text class="tk" transform="rotate(-35.2)" x="238.5">20000</text>
<text class="tk" transform="rotate(-55.6)" x="300">0</text><text class="tk" transform="rotate(-53.22)" x="300">10</text><text class="tk" transform="rotate(-50.84)" x="300">20</text><text class="tk" transform="rotate(-48.46)" x="300">30</text><text class="tk" transform="rotate(-46.08)" x="300">40</text><text class="tk" transform="rotate(-43.7)" x="300">50</text><text class="tk" transform="rotate(-41.32)" x="300">60</text><text class="tk" transform="rotate(-38.94)" x="300">70</text><text class="tk" transform="rotate(-36.56)" x="300">80</text><text class="tk" transform="rotate(-34.18)" x="300">90</text>
<text class="cn" x="232" y="-230.5">晾霉期</text>
</g>

<g id="b-chaohuo">
<g transform="rotate(-90)" fill="none">
<circle r="225.5" stroke-width="16" pathLength="360" stroke-dasharray="19.7 360" stroke-dashoffset="-58.4" class="mg"/>
<circle r="285.75" stroke-width="18.5" pathLength="360" stroke-dasharray="19.7 360" stroke-dashoffset="-58.4" class="lb"/>
<circle r="296.5" stroke-width="3" pathLength="360" class="tc" stroke-dasharray="0.15 1.82 0.15 1.82 0.15 1.82 0.15 1.82 0.15 1.82 0.15 1.82 0.15 1.82 0.15 1.82 0.15 1.82 0.15 400" stroke-dashoffset="-58.325"/>
</g>
<text class="tk" transform="rotate(-31.6)" x="238.5">0</text>
<text class="tk" transform="rotate(-31.6)" x="300">0</text><text class="tk" transform="rotate(-29.63)" x="300">10</text><text class="tk" transform="rotate(-27.66)" x="300">20</text><text class="tk" transform="rotate(-25.69)" x="300">30</text><text class="tk" transform="rotate(-23.72)" x="300">40</text><text class="tk" transform="rotate(-21.75)" x="300">50</text><text class="tk" transform="rotate(-19.78)" x="300">60</text><text class="tk" transform="rotate(-17.81)" x="300">70</text><text class="tk" transform="rotate(-15.84)" x="300">80</text><text class="tk" transform="rotate(-13.87)" x="300">90</text>
<text class="cn" x="306" y="-123.5">潮火期</text>
</g>

<g id="b-dahuo">
<g transform="rotate(-90)" fill="none">
<circle r="225.5" stroke-width="16" pathLength="360" stroke-dasharray="30.8 360" stroke-dashoffset="-78.3" class="pk"/>
<circle r="285.75" stroke-width="18.5" pathLength="360" stroke-dasharray="30.8 360" stroke-dashoffset="-78.3" class="lb"/>
<circle r="296.5" stroke-width="3" pathLength="360" class="tc" stroke-dasharray="0.15 2.93 0.15 2.93 0.15 2.93 0.15 2.93 0.15 2.93 0.15 2.93 0.15 2.93 0.15 2.93 0.15 2.93 0.15 400" stroke-dashoffset="-78.225"/>
</g>
<text class="tk" transform="rotate(-11.7)" x="238.5">0</text><text class="tk" transform="rotate(8.7)" x="238.5">20000</text>
<text class="tk" transform="rotate(-11.7)" x="300">0</text><text class="tk" transform="rotate(-8.62)" x="300">10</text><text class="tk" transform="rotate(-5.54)" x="300">20</text><text class="tk" transform="rotate(-2.46)" x="300">30</text><text class="tk" transform="rotate(0.62)" x="300">40</text><text class="tk" transform="rotate(3.7)" x="300">50</text><text class="tk" transform="rotate(6.78)" x="300">60</text><text class="tk" transform="rotate(9.86)" x="300">70</text><text class="tk" transform="rotate(12.94)" x="300">80</text><text class="tk" transform="rotate(16.02)" x="300">90</text>
<text class="cn" x="321" y="27.5">大火期</text>
</g>

<g id="b-houhuo">
<g transform="rotate(-90)" fill="none">
<circle r="225.5" stroke-width="16" pathLength="360" stroke-dasharray="30 360" stroke-dashoffset="-109.3" class="or"/>
<circle r="285.75" stroke-width="18.5" pathLength="360" stroke-dasharray="30 360" stroke-dashoffset="-109.3" class="lb"/>
<circle r="296.5" stroke-width="3" pathLength="360" class="tc" stroke-dasharray="0.15 2.85 0.15 2.85 0.15 2.85 0.15 2.85 0.15 2.85 0.15 2.85 0.15 2.85 0.15 2.85 0.15 2.85 0.15 400" stroke-dashoffset="-109.225"/>
</g>
<text class="tk" transform="rotate(19.3)" x="238.5">0</text><text class="tk" transform="rotate(39.7)" x="238.5">20000</text>
<text class="tk" transform="rotate(19.3)" x="300">0</text><text class="tk" transform="rotate(22.3)" x="300">10</text><text class="tk" transform="rotate(25.3)" x="300">20</text><text class="tk" transform="rotate(28.3)" x="300">30</text><text class="tk" transform="rotate(31.3)" x="300">40</text><text class="tk" transform="rotate(34.3)" x="300">50</text><text class="tk" transform="rotate(37.3)" x="300">60</text><text class="tk" transform="rotate(40.3)" x="300">70</text><text class="tk" transform="rotate(43.3)" x="300">80</text><text class="tk" transform="rotate(46.3)" x="300">90</text>
<text class="cn" x="276" y="197.5">后火期</text>
</g>

<g id="b-chufang">
<g transform="rotate(-90)" fill="none">
<circle r="225.5" stroke-width="16" pathLength="360" stroke-dasharray="40.9 360" stroke-dashoffset="-139.5" class="ye"/>
<circle r="285.75" stroke-width="18.5" pathLength="360" stroke-dasharray="40.3 360" stroke-dashoffset="-139.5" class="lb"/>
<circle r="285.75" stroke-width="18.5" pathLength="360" stroke-dasharray="0.6 360" stroke-dashoffset="-179.8" class="nv"/>
<circle r="296.5" stroke-width="3" pathLength="360" class="tc" stroke-dasharray="0.15 3.94 0.15 3.94 0.15 3.94 0.15 3.94 0.15 3.94 0.15 3.94 0.15 3.94 0.15 3.94 0.15 3.94 0.15 400" stroke-dashoffset="-139.425"/>
</g>
<text class="tk" transform="rotate(49.5)" x="238.5">0</text><text class="tk" transform="rotate(69.9)" x="238.5">20000</text>
<text class="tk" transform="rotate(49.5)" x="300">0</text><text class="tk" transform="rotate(53.59)" x="300">10</text><text class="tk" transform="rotate(57.68)" x="300">20</text><text class="tk" transform="rotate(61.77)" x="300">30</text><text class="tk" transform="rotate(65.86)" x="300">40</text><text class="tk" transform="rotate(69.95)" x="300">50</text><text class="tk" transform="rotate(74.04)" x="300">60</text><text class="tk" transform="rotate(78.13)" x="300">70</text><text class="tk" transform="rotate(82.22)" x="300">80</text><text class="tk" transform="rotate(86.31)" x="300">90</text>
<text class="cn" x="102" y="330.5">出房期</text>
</g>

<g id="b-ascomycota">
<g transform="rotate(-90)" fill="none">
<circle r="225.5" stroke-width="16" pathLength="360" stroke-dasharray="173.1 360" stroke-dashoffset="-186.5" class="fb"/>
<circle r="216.7" stroke-width="2.4" pathLength="360" stroke-dasharray="40.7 360" stroke-dashoffset="-186.5" class="ye"/>
<circle r="216.7" stroke-width="2.4" pathLength="360" stroke-dasharray="29.6 360" stroke-dashoffset="-227.2" class="or"/>
<circle r="216.7" stroke-width="2.4" pathLength="360" stroke-dasharray="29.8 360" stroke-dashoffset="-256.8" class="pk"/>
<circle r="216.7" stroke-width="2.4" pathLength="360" stroke-dasharray="18.9 360" stroke-dashoffset="-286.6" class="mg"/>
<circle r="216.7" stroke-width="2.4" pathLength="360" stroke-dasharray="23.5 360" stroke-dashoffset="-305.5" class="rd"/>
<circle r="216.7" stroke-width="2.4" pathLength="360" stroke-dasharray="21 360" stroke-dashoffset="-329" class="ol"/>
<circle r="216.7" stroke-width="2.4" pathLength="360" stroke-dasharray="9.5 360" stroke-dashoffset="-350" class="br"/>
<circle r="281.5" stroke-width="27" pathLength="360" stroke-dasharray="40.4 360" stroke-dashoffset="-186.5" class="ye"/>
<circle r="281.5" stroke-width="27" pathLength="360" stroke-dasharray="29.9 360" stroke-dashoffset="-226.9" class="or"/>
<circle r="281.5" stroke-width="27" pathLength="360" stroke-dasharray="29.8 360" stroke-dashoffset="-256.8" class="pk"/>
<circle r="281.5" stroke-width="27" pathLength="360" stroke-dasharray="18.9 360" stroke-dashoffset="-286.6" class="mg"/>
<circle r="281.5" stroke-width="27" pathLength="360" stroke-dasharray="23.5 360" stroke-dashoffset="-305.5" class="rd"/>
<circle r="281.5" stroke-width="27" pathLength="360" stroke-dasharray="21 360" stroke-dashoffset="-329" class="ol"/>
<circle r="281.5" stroke-width="27" pathLength="360" stroke-dasharray="9.6 360" stroke-dashoffset="-350" class="br"/>
<circle r="296.5" stroke-width="3" pathLength="360" class="tc" stroke-dasharray="0.15 17.16 0.15 17.16 0.15 17.16 0.15 17.16 0.15 17.16 0.15 17.16 0.15 17.16 0.15 17.16 0.15 17.16 0.15 400" stroke-dashoffset="-186.425"/>
</g>
<text class="tkl" transform="rotate(276.5)" x="-238.5">0</text><text class="tkl" transform="rotate(296.9)" x="-238.5">20000</text><text class="tkl" transform="rotate(317.3)" x="-238.5">40000</text><text class="tkl" transform="rotate(337.7)" x="-238.5">60000</text><text class="tkl" transform="rotate(358.1)" x="-238.5">80000</text><text class="tkl" transform="rotate(18.5)" x="-238.5">100000</text><text class="tkl" transform="rotate(38.9)" x="-238.5">120000</text><text class="tkl" transform="rotate(59.3)" x="-238.5">140000</text><text class="tkl" transform="rotate(79.7)" x="-238.5">160000</text>
<text class="tkl" transform="rotate(276.5)" x="-299.5">0</text><text class="tkl" transform="rotate(293.81)" x="-299.5">10</text><text class="tkl" transform="rotate(311.12)" x="-299.5">20</text><text class="tkl" transform="rotate(328.43)" x="-299.5">30</text><text class="tkl" transform="rotate(345.74)" x="-299.5">40</text><text class="tkl" transform="rotate(3.05)" x="-299.5">50</text><text class="tkl" transform="rotate(20.36)" x="-299.5">60</text><text class="tkl" transform="rotate(37.67)" x="-299.5">70</text><text class="tkl" transform="rotate(54.98)" x="-299.5">80</text><text class="tkl" transform="rotate(72.29)" x="-299.5">90</text>
<text class="en" x="-443" y="-30.5">Ascomycota</text>
</g>

<g id="b-basidiomycota">
<g transform="rotate(-90)" fill="none">
<circle r="225.5" stroke-width="16" pathLength="360" stroke-dasharray="2.9 360" stroke-dashoffset="-183.3" class="mb"/>
<circle r="216.7" stroke-width="2.4" pathLength="360" stroke-dasharray="0.4 360" stroke-dashoffset="-183.5" class="mg"/>
<circle r="216.7" stroke-width="2.4" pathLength="360" stroke-dasharray="0.8 360" stroke-dashoffset="-183.9" class="ol"/>
<circle r="216.7" stroke-width="2.4" pathLength="360" stroke-dasharray="1.3 360" stroke-dashoffset="-184.7" class="br"/>
<circle r="281.5" stroke-width="27" pathLength="360" stroke-dasharray="2.9 360" stroke-dashoffset="-183.3" class="br"/>
<circle r="296.5" stroke-width="3" pathLength="360" class="tc" stroke-dasharray="0.15 1.05 0.15 1.05 0.15 400" stroke-dashoffset="-183.225"/>
</g>
<text class="tkl" transform="rotate(273.3)" x="-238.5">0</text>
<text class="tkl" transform="rotate(273.3)" x="-299.5">0</text><text class="tkl" transform="rotate(274.5)" x="-299.5">40</text><text class="tkl" transform="rotate(275.7)" x="-299.5">80</text>
<text class="en" text-anchor="end" transform="rotate(275.5)" x="-325" dy="0.35em">Basidiomycota</text>
</g>

<g id="b-other">
<g transform="rotate(-90)" fill="none">
<circle r="225.5" stroke-width="16" pathLength="360" stroke-dasharray="2.3 360" stroke-dashoffset="-180.8" class="nv"/>
<circle r="216.7" stroke-width="2.4" pathLength="360" stroke-dasharray="0.5 360" stroke-dashoffset="-180.9" class="ye"/>
<circle r="216.7" stroke-width="2.4" pathLength="360" stroke-dasharray="0.4 360" stroke-dashoffset="-181.4" class="or"/>
<circle r="216.7" stroke-width="2.4" pathLength="360" stroke-dasharray="0.4 360" stroke-dashoffset="-181.8" class="pk"/>
<circle r="216.7" stroke-width="2.4" pathLength="360" stroke-dasharray="0.4 360" stroke-dashoffset="-182.2" class="rd"/>
<circle r="216.7" stroke-width="2.4" pathLength="360" stroke-dasharray="0.45 360" stroke-dashoffset="-182.6" class="br"/>
<circle r="281.5" stroke-width="27" pathLength="360" stroke-dasharray="2.1 360" stroke-dashoffset="-180.9" class="ye"/>
<circle r="296.5" stroke-width="3" pathLength="360" class="tc" stroke-dasharray="0.15 0.95 0.15 400" stroke-dashoffset="-180.725"/>
</g>
<text class="tkl" transform="rotate(270.8)" x="-238.5">0</text>
<text class="tkl" transform="rotate(270.8)" x="-299.5">0</text><text class="tkl" transform="rotate(271.9)" x="-299.5">50</text>
<text class="en" text-anchor="end" transform="rotate(271.8)" x="-325" dy="0.35em">Other</text>
</g>

<g id="b-axis" transform="rotate(-90)" fill="none">
<circle r="281.5" stroke-width="10" pathLength="360" stroke-dasharray="179.3 360" stroke-dashoffset="-180.5" class="wt"/>
<circle r="285.5" stroke-width="1.2" pathLength="360" stroke-dasharray="180.5 360" stroke-dashoffset="0" class="wt"/>
<circle r="235.25" stroke-width="3.5" pathLength="360" class="tc" stroke-dashoffset="-0.3" stroke-dasharray="0.2 11.3 0.2 20.2 0.2 1.9 0.2 20.2 0.2 3.4 0.2 19.7 0.2 20.2 0.2 10.4 0.2 20.2 0.2 9.6 0.2 20.2 0.2 20.7 0.2 2.3 0.2 3 0.2 20.2 0.2 20.2 0.2 20.2 0.2 20.2 0.2 20.2 0.2 20.2 0.2 20.2 0.2 20.2 0.2 400"/>
</g>
</g>
</svg>
